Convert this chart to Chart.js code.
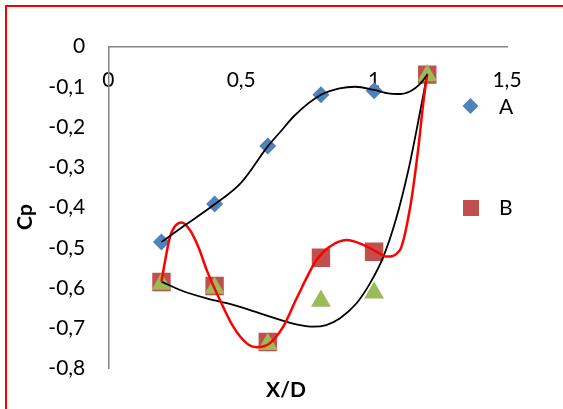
<!DOCTYPE html>
<html><head><meta charset="utf-8">
<style>html,body{margin:0;padding:0;background:#fff}#wrap{position:relative;width:563px;height:409px}</style>
<script src="https://cdn.jsdelivr.net/npm/chart.js@4/dist/chart.umd.min.js"></script>
</head><body><div id="wrap"><canvas id="c" width="563" height="409"></canvas></div>
<script>
// ---- data ----
const xValues = [0.2, 0.4, 0.6, 0.8, 1.0, 1.2];
const seriesA = [-0.486, -0.391, -0.247, -0.120, -0.110, -0.071];
const seriesB = [-0.585, -0.595, -0.734, -0.525, -0.510, -0.070];
const seriesC = [-0.590, -0.600, -0.740, -0.632, -0.612, -0.072];

// trend curves
const trendAx = [0.2, 0.28, 0.4, 0.5, 0.6, 0.65, 0.7, 0.8, 0.87, 0.93, 1.0, 1.06, 1.1, 1.14, 1.17, 1.2];
const trendAy = [-0.486, -0.448, -0.392, -0.338, -0.248, -0.21, -0.172, -0.12, -0.104, -0.100, -0.108, -0.117, -0.118, -0.11, -0.095, -0.07];
const trendBx = [0.2, 0.213, 0.232, 0.25, 0.276, 0.307, 0.34, 0.37, 0.42, 0.47, 0.52, 0.558, 0.608, 0.658, 0.709, 0.784, 0.834, 0.897, 0.959, 1.01, 1.047, 1.097, 1.135, 1.165, 1.185, 1.2];
const trendBy = [-0.584, -0.535, -0.473, -0.447, -0.437, -0.456, -0.5, -0.555, -0.63, -0.696, -0.737, -0.747, -0.737, -0.696, -0.625, -0.530, -0.497, -0.481, -0.493, -0.510, -0.522, -0.506, -0.402, -0.26, -0.14, -0.068];
const trendCx = [0.2, 0.27, 0.37, 0.47, 0.571, 0.671, 0.721, 0.77, 0.82, 0.872, 0.934, 0.985, 1.035, 1.085, 1.129, 1.165, 1.2];
const trendCy = [-0.584, -0.605, -0.626, -0.642, -0.663, -0.684, -0.692, -0.696, -0.692, -0.675, -0.638, -0.588, -0.522, -0.423, -0.307, -0.19, -0.068];

const xTickLabels = ['0', '0,5', '1', '1,5'];
const yTickLabels = ['0', '-0,1', '-0,2', '-0,3', '-0,4', '-0,5', '-0,6', '-0,7', '-0,8'];
const legendNames = ['A', 'B'];
const xTitle = 'X/D';
const yTitle = 'Cp';

const pts = (xs, ys) => xs.map((x, i) => ({x: x, y: ys[i]}));
const FONT = 'Lato, "Open Sans", sans-serif';

const decor = {
  id: 'decor',
  beforeDraw(chart) {
    const ctx = chart.ctx;
    ctx.save();
    ctx.fillStyle = '#fff';
    ctx.fillRect(0, 0, chart.width, chart.height);
    ctx.fillStyle = '#FF0000';
    ctx.fillRect(5, 5, chart.width - 5, 2);
    ctx.fillRect(5, 5, 2, chart.height - 5);
    ctx.restore();
  },
  afterDraw(chart) {
    const ctx = chart.ctx;
    ctx.save();
    ctx.fillStyle = '#000';
    ctx.font = 'bold 21px ' + FONT;
    ctx.textAlign = 'center';
    ctx.textBaseline = 'middle';
    ctx.fillText(xTitle, 286, 390);
    ctx.translate(25, 217);
    ctx.rotate(-Math.PI / 2);
    ctx.fillText(yTitle, 0, 0);
    ctx.restore();
    // legend
    ctx.save();
    ctx.fillStyle = '#4F81BD';
    ctx.beginPath();
    ctx.moveTo(470.5, 98); ctx.lineTo(478.5, 106); ctx.lineTo(470.5, 114); ctx.lineTo(462.5, 106); ctx.closePath();
    ctx.fill();
    ctx.fillStyle = '#C0504D';
    ctx.fillRect(463, 200, 16, 16);
    ctx.fillStyle = '#000';
    ctx.font = '21px ' + FONT;
    ctx.textAlign = 'left';
    ctx.textBaseline = 'middle';
    ctx.fillText(legendNames[0], 499, 107);
    ctx.fillText(legendNames[1], 499, 208);
    ctx.restore();
  }
};

new Chart(document.getElementById('c'), {
  type: 'scatter',
  data: {
    datasets: [
      {label: 'trendA', data: pts(trendAx, trendAy), showLine: true, borderColor: '#000', borderWidth: 1.8, pointRadius: 0, cubicInterpolationMode: 'monotone', fill: false},
      {label: 'trendB', data: pts(trendBx, trendBy), showLine: true, borderColor: '#FF0000', borderWidth: 2.5, pointRadius: 0, cubicInterpolationMode: 'monotone', fill: false},
      {label: 'trendC', data: pts(trendCx, trendCy), showLine: true, borderColor: '#000', borderWidth: 1.8, pointRadius: 0, cubicInterpolationMode: 'monotone', fill: false},
      {label: 'C', data: pts(xValues, seriesC), pointStyle: 'triangle', pointRadius: 11.5, backgroundColor: '#9BBB59', borderColor: '#9BBB59', borderWidth: 0},
      {label: 'B', data: pts(xValues, seriesB), pointStyle: 'rect', pointRadius: 13, backgroundColor: '#C0504D', borderColor: '#C0504D', borderWidth: 0},
      {label: 'A', data: pts(xValues, seriesA), pointStyle: 'rectRot', pointRadius: 8.5, backgroundColor: '#4F81BD', borderColor: '#4F81BD', borderWidth: 0}
    ]
  },
  options: {
    responsive: false,
    animation: false,
    devicePixelRatio: 1,
    layout: {padding: {left: 0, top: 46.5, right: 56, bottom: 40.5}},
    plugins: {legend: {display: false}, tooltip: {enabled: false}},
    scales: {
      x: {
        type: 'linear', min: 0, max: 1.5,
        position: {y: 0},
        grid: {display: false, drawTicks: false},
        border: {display: true, color: '#868686', width: 1.5},
        ticks: {stepSize: 0.5, padding: 21, color: '#000', font: {family: FONT, size: 21},
          callback: (v) => xTickLabels[Math.round(v * 2)]}
      },
      y: {
        type: 'linear', min: -0.8, max: 0,
        position: 'left',
        grid: {display: false, drawTicks: false},
        border: {display: true, color: '#868686', width: 1.5},
        ticks: {stepSize: 0.1, padding: 23, color: '#000', font: {family: FONT, size: 21},
          callback: (v) => yTickLabels[Math.round(-v * 10)]},
        afterFit: (s) => { s.width = 108.3; }
      }
    }
  },
  plugins: [decor]
});
</script></body></html>
